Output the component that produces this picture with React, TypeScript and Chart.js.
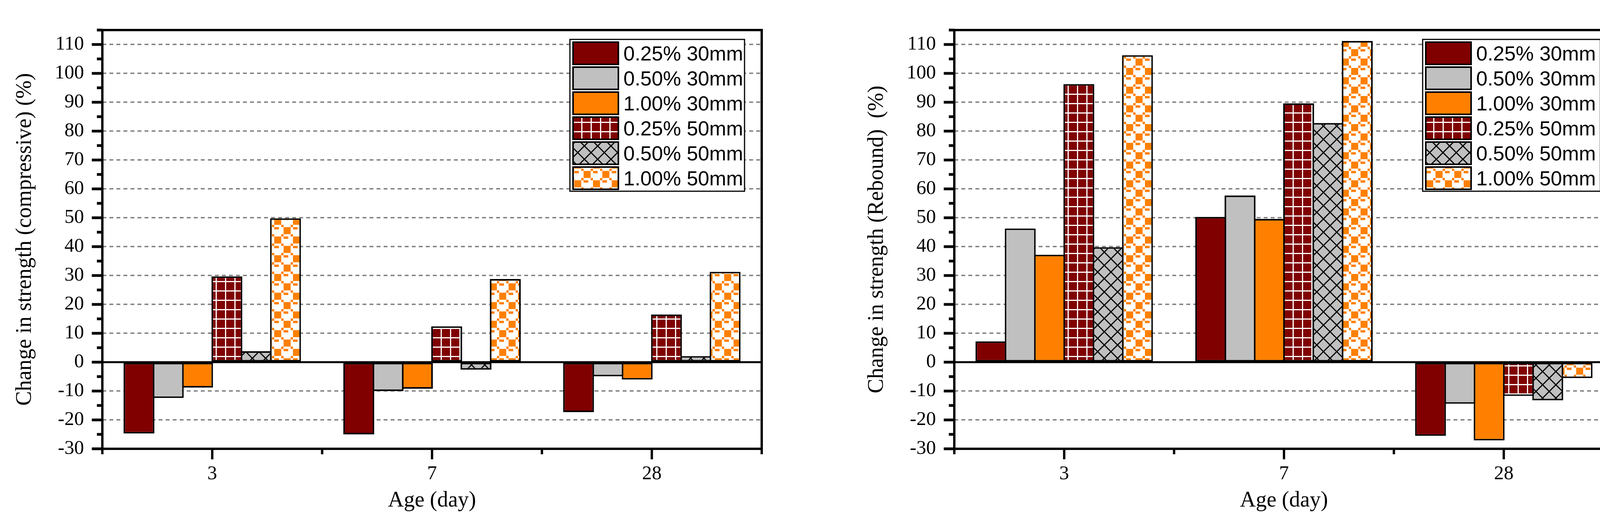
import { useEffect, useRef } from "react";
import { Chart, registerables } from "chart.js";

Chart.register(...registerables);

// categories and series
const ages = ["3", "7", "28"];
const seriesNames = [
  "0.25% 30mm",
  "0.50% 30mm",
  "1.00% 30mm",
  "0.25% 50mm",
  "0.50% 50mm",
  "1.00% 50mm",
];

// change in compressive strength (%)
const comp025_30 = [-24.7, -25.0, -17.3];
const comp050_30 = [-12.4, -10.0, -4.9];
const comp100_30 = [-8.8, -9.2, -6.0];
const comp025_50 = [29.7, 12.4, 16.5];
const comp050_50 = [3.8, -2.6, 2.1];
const comp100_50 = [49.8, 28.8, 31.3];

// change in rebound strength (%)
const reb025_30 = [7.2, 50.3, -25.5];
const reb050_30 = [46.3, 57.7, -14.4];
const reb100_30 = [37.2, 49.6, -27.1];
const reb025_50 = [96.3, 89.6, -11.7];
const reb050_50 = [39.8, 82.8, -13.2];
const reb100_50 = [106.3, 111.2, -5.5];

// y axis
const yMin = -30;
const yMax = 115;
const yTickValues = [-30, -20, -10, 0, 10, 20, 30, 40, 50, 60, 70, 80, 90, 100, 110];
const yMinorStep = 5;

const SERIF = "'Liberation Serif', 'Times New Roman', serif";
const SANS = "'Liberation Sans', Arial, sans-serif";

const makeTile = (size: number, paint: (c: CanvasRenderingContext2D) => void) => {
  const cv = document.createElement("canvas");
  cv.width = size;
  cv.height = size;
  const c = cv.getContext("2d")!;
  paint(c);
  return c.createPattern(cv, "repeat")!;
};

const makeFills = (): (string | CanvasPattern)[] => {
  const grid = makeTile(24, (c) => {
    c.fillStyle = "#800000";
    c.fillRect(0, 0, 24, 24);
    c.fillStyle = "#ffffff";
    c.fillRect(0, 0, 3, 24);
    c.fillRect(0, 0, 24, 3);
  });
  const hatch = makeTile(34, (c) => {
    c.fillStyle = "#c0c0c0";
    c.fillRect(0, 0, 34, 34);
    c.strokeStyle = "#000";
    c.lineWidth = 3;
    c.beginPath();
    c.moveTo(-2, -2);
    c.lineTo(36, 36);
    c.moveTo(36, -2);
    c.lineTo(-2, 36);
    c.stroke();
  });
  const checks = makeTile(48, (c) => {
    c.fillStyle = "#ffffff";
    c.fillRect(0, 0, 48, 48);
    c.fillStyle = "#ff8000";
    c.fillRect(6, 6, 18, 18);
    c.fillRect(30, 30, 18, 18);
    c.fillRect(0, 0, 6, 6);
    c.fillRect(24, 0, 6, 6);
    c.fillRect(0, 24, 6, 6);
    c.fillRect(24, 24, 6, 6);
    c.fillRect(30, 6, 12, 6);
    c.fillRect(6, 30, 12, 6);
  });
  return ["#800000", "#c0c0c0", "#ff8000", grid, hatch, checks];
};

// frame, minor ticks, zero line and boxed legend drawn like the original plot
const framePlugin = {
  id: "frameLegend",
  afterDatasetsDraw(chart: Chart) {
    const { ctx, chartArea } = chart;
    const y0 = chart.scales.y.getPixelForValue(0);
    ctx.save();
    ctx.strokeStyle = "#000";
    ctx.lineWidth = 5;
    ctx.beginPath();
    ctx.moveTo(chartArea.left, y0);
    ctx.lineTo(chartArea.right, y0);
    ctx.stroke();
    ctx.restore();
  },
  afterDraw(chart: Chart, _args: unknown, opts: any) {
    const { ctx, chartArea } = chart;
    const { left, right, top, bottom } = chartArea;
    const ys = chart.scales.y;
    const xs = chart.scales.x;
    const seg = (x1: number, y1: number, x2: number, y2: number, w: number) => {
      ctx.lineWidth = w;
      ctx.beginPath();
      ctx.moveTo(x1, y1);
      ctx.lineTo(x2, y2);
      ctx.stroke();
    };
    ctx.save();
    ctx.strokeStyle = "#000";
    ctx.lineCap = "butt";

    for (let v = yMin; v <= yMax; v += yMinorStep) {
      const py = ys.getPixelForValue(v);
      const major = yTickValues.includes(v);
      seg(left - (major ? 27 : 14), py, left, py, 7);
    }
    for (let i = 0; i <= ages.length; i++) {
      const px = xs.getPixelForValue(i - 0.5);
      seg(px, bottom, px, bottom + 14, 6);
    }
    for (let i = 0; i < ages.length; i++) {
      const px = xs.getPixelForTick(i);
      seg(px, bottom, px, bottom + 27, 6);
    }

    seg(left - 14, top, right + 3, top, 6);
    seg(left, top - 3, left, bottom + 3, 6);
    seg(right, top - 3, right, bottom + 3, 6);
    seg(left - 3, bottom, right + 3, bottom, 6);

    // legend
    const bw = opts.width as number;
    const bh = 389;
    const bx = right - opts.gapRight - bw;
    const by = top + 24;
    ctx.fillStyle = "#fff";
    ctx.fillRect(bx, by, bw, bh);
    ctx.lineWidth = 3;
    ctx.strokeRect(bx, by, bw, bh);
    ctx.font = `52px ${SANS}`;
    ctx.textBaseline = "alphabetic";
    ctx.textAlign = "left";
    chart.data.datasets.forEach((ds, i) => {
      const sy = by + 7 + i * 64;
      ctx.fillStyle = ds.backgroundColor as any;
      ctx.fillRect(bx + 8, sy, 116, 57);
      ctx.lineWidth = 4;
      ctx.strokeRect(bx + 8, sy, 116, 57);
      ctx.fillStyle = "#000";
      ctx.fillText(String(ds.label), bx + 137, sy + 47);
    });
    ctx.restore();
  },
};

interface PanelProps {
  yTitle: string;
  series: number[][];
  legendGap: number;
  legendWidth: number;
  left: number;
}

const BarPanel = ({ yTitle, series, legendGap, legendWidth, left }: PanelProps) => {
  const canvasRef = useRef<HTMLCanvasElement | null>(null);

  useEffect(() => {
    if (!canvasRef.current) return;
    const ctx = canvasRef.current.getContext("2d");
    if (!ctx) return;
    const fills = makeFills();

    const chart = new Chart(ctx, {
      type: "bar",
      data: {
        labels: ages,
        datasets: series.map((data, i) => ({
          label: seriesNames[i],
          data,
          backgroundColor: fills[i] as any,
          borderColor: "#000",
          borderWidth: 4,
          borderSkipped: false,
          categoryPercentage: 0.8,
          barPercentage: 1.053,
        })),
      },
      options: {
        animation: false,
        responsive: false,
        devicePixelRatio: 1,
        layout: { padding: { top: 32, right: 23, left: 0, bottom: 0 } },
        plugins: {
          legend: { display: false },
          tooltip: { enabled: false },
          frameLegend: { gapRight: legendGap, width: legendWidth },
        } as any,
        scales: {
          x: {
            grid: { display: false, drawTicks: false },
            border: { display: false },
            ticks: {
              color: "#000",
              font: { family: SERIF, size: 50 },
              padding: 35,
              maxRotation: 0,
            },
            title: {
              display: true,
              text: "Age (day)",
              color: "#000",
              font: { family: SERIF, size: 56 },
              padding: { top: 0, bottom: 18 },
            },
            afterFit: (s: any) => {
              s.height = 185;
            },
          },
          y: {
            min: yMin,
            max: yMax,
            ticks: {
              color: "#000",
              font: { family: SERIF, size: 50 },
              padding: 47,
              autoSkip: false,
            },
            grid: { color: "#808080", lineWidth: 3.5, drawTicks: false },
            border: { display: false, dash: [10, 8] },
            title: {
              display: true,
              text: yTitle,
              color: "#000",
              font: { family: SERIF, size: 56 },
              padding: { top: 31, bottom: 0 },
            },
            afterBuildTicks: (s: any) => {
              s.ticks = yTickValues.map((value) => ({ value }));
            },
            afterFit: (s: any) => {
              s.width = 262;
            },
          },
        },
      },
      plugins: [framePlugin],
    });

    return () => chart.destroy();
  }, [yTitle, series, legendGap, legendWidth]);

  return (
    <canvas
      ref={canvasRef}
      width={1973}
      height={1335}
      style={{ position: "absolute", left, top: 0, width: 1973, height: 1335 }}
    />
  );
};

const compSeries = [comp025_30, comp050_30, comp100_30, comp025_50, comp050_50, comp100_50];
const rebSeries = [reb025_30, reb050_30, reb100_30, reb025_50, reb050_50, reb100_50];

export default function App() {
  useEffect(() => {
    document.body.style.margin = "0";
    document.body.style.overflow = "hidden";
  }, []);

  return (
    <div style={{ position: "relative", width: 4154, height: 1335, background: "#fff" }}>
      <BarPanel
        yTitle="Change in strength (compressive) (%)"
        series={compSeries}
        legendGap={44}
        legendWidth={447}
        left={0}
      />
      <BarPanel
        yTitle="Change in strength (Rebound)  (%)"
        series={rebSeries}
        legendGap={34}
        legendWidth={455}
        left={2181}
      />
    </div>
  );
}
